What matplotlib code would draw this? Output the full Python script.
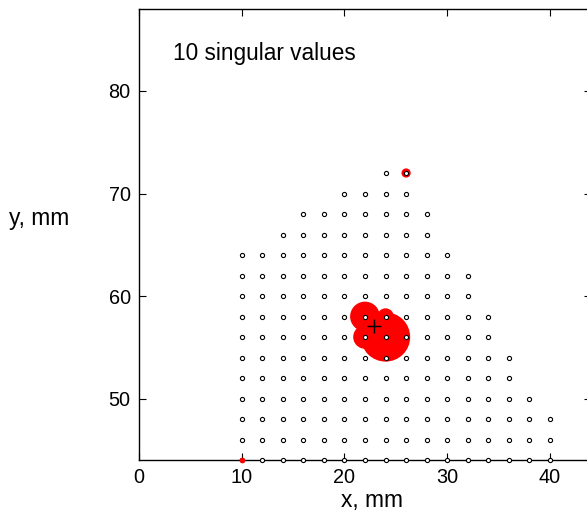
import numpy as np
import matplotlib
matplotlib.use("Agg")
import matplotlib.pyplot as plt
from matplotlib.patches import Circle

plt.rcParams['font.family'] = ['Liberation Sans', 'DejaVu Sans']

# Grid of measurement points: for each row y, the x range covered (step 2 mm)
row_y = [44, 46, 48, 50, 52, 54, 56, 58, 60, 62, 64, 66, 68, 70, 72]
row_x0 = [10, 10, 10, 10, 10, 10, 10, 10, 10, 10, 10, 14, 16, 20, 24]
row_x1 = [40, 40, 40, 38, 36, 36, 34, 34, 32, 32, 30, 28, 28, 26, 26]

# Singular value circles: centre and radius (mm)
sv_x = [24, 22, 22, 24, 26, 10]
sv_y = [56, 58, 56, 58, 72, 44]
sv_r = [2.4, 1.45, 1.15, 0.8, 0.45, 0.2]

# Estimated source position
src_x, src_y = 22.9, 57.1

px, py = [], []
for y, a, b in zip(row_y, row_x0, row_x1):
    for x in range(a, b + 1, 2):
        px.append(x)
        py.append(y)

fig = plt.figure(figsize=(5.87, 5.15), dpi=100)
ax = fig.add_axes([139/587, 55/515, 452/587, 451/515])

for x, y, r in zip(sv_x, sv_y, sv_r):
    ax.add_patch(Circle((x, y), r, color='red', lw=0, zorder=2, clip_on=False))

ax.plot(px, py, 'o', ms=3, mfc='white', mec='black', mew=0.8,
        ls='none', zorder=3, clip_on=False)
# red point on the axis line drawn over the grid marker
ax.plot([10], [44], 'o', ms=3, mfc='red', mec='red', zorder=4, clip_on=False)
ax.plot([src_x], [src_y], '+', color='black', ms=10, mew=1.0, zorder=5)

ax.text(3.3, 83.7, '10 singular values', fontsize=16.3, va='center', ha='left')

ax.set_xlim(0, 44)
ax.set_ylim(44, 88)
ax.set_xticks([0, 10, 20, 30, 40])
ax.set_yticks([50, 60, 70, 80])
ax.tick_params(direction='in', length=5, width=0.8, labelsize=14.3,
               top=True, right=True, pad=6)
for s in ax.spines.values():
    s.set_linewidth(1.0)

ax.set_xlabel('x, mm', fontsize=16.4, va='center')
ax.xaxis.set_label_coords(0.515, -0.089)
ax.set_ylabel('y, mm', fontsize=16.4, rotation=0, ha='center', va='center')
ax.yaxis.set_label_coords(-0.22, 0.535)

fig.savefig('out.png', dpi=100)
